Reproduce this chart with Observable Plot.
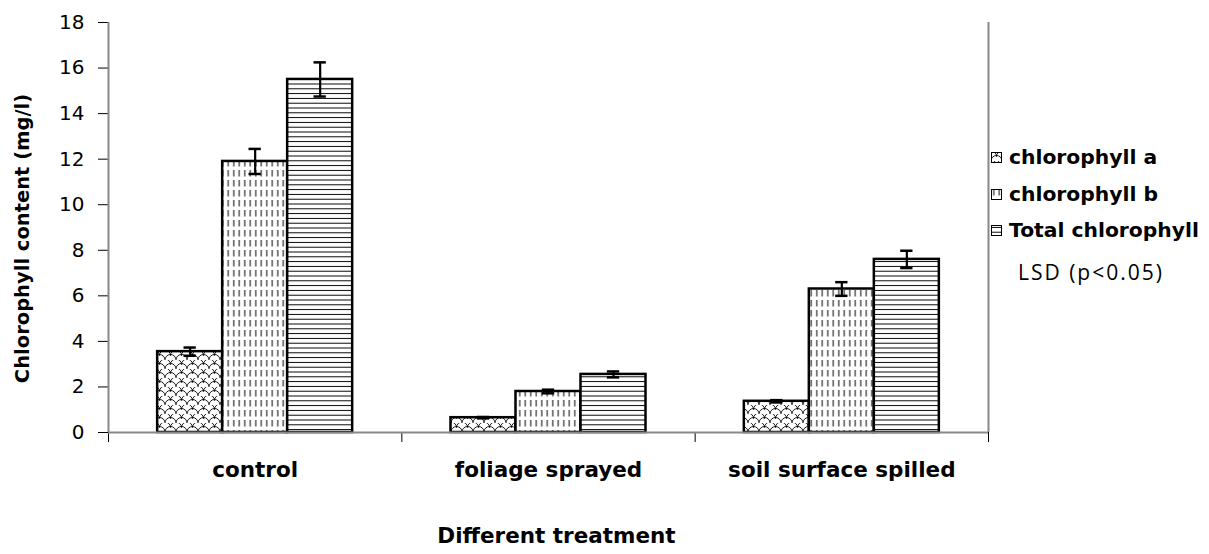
<!DOCTYPE html>
<html><head><meta charset="utf-8">
<script src="https://cdn.jsdelivr.net/npm/d3@7"></script>
<script src="https://cdn.jsdelivr.net/npm/@observablehq/plot@0.6"></script>
<style>
body{margin:0;background:#fff;}
#wrap{position:relative;width:1209px;height:554px;}
.leg{position:absolute;left:991px;font:bold 20.3px "DejaVu Sans";display:flex;align-items:center;white-space:nowrap;color:#000;}
.leg svg{margin-right:7px;}
.note{position:absolute;left:1018px;font:21px "Open Sans";letter-spacing:2px;white-space:nowrap;color:#000;}
</style></head><body>
<svg width="0" height="0" style="position:absolute"><defs>
<pattern id="pa" width="11" height="9" patternUnits="userSpaceOnUse">
<rect width="11" height="9" fill="#fff"/>
<path d="M0,9 A5.5,5.5 0 0 1 11,9 M-5.5,4.5 A5.5,5.5 0 0 1 5.5,4.5 M5.5,4.5 A5.5,5.5 0 0 1 16.5,4.5" fill="none" stroke="#000" stroke-width="0.9"/>
</pattern>
<pattern id="pb" width="5.5" height="10" patternUnits="userSpaceOnUse">
<rect width="5.5" height="10" fill="#fff"/>
<line x1="2.75" y1="0" x2="2.75" y2="6.5" stroke="#000" stroke-width="1"/>
</pattern>
<pattern id="pt" width="10" height="4.8" patternUnits="userSpaceOnUse">
<rect width="10" height="4.8" fill="#fff"/>
<line x1="0" y1="2.4" x2="10" y2="2.4" stroke="#000" stroke-width="1"/>
</pattern>
</defs></svg>
<div id="wrap"></div>
<script>
const treatments = ["control", "foliage sprayed", "soil surface spilled"];
const series = ["chlorophyll a", "chlorophyll b", "Total chlorophyll"];
const chlA = [3.55, 0.65, 1.37];
const chlB = [11.9, 1.8, 6.3];
const total = [15.5, 2.55, 7.6];
const errA = [0.18, 0.03, 0.05];
const errB = [0.55, 0.08, 0.3];
const errT = [0.75, 0.13, 0.38];
const yTicks = [0, 2, 4, 6, 8, 10, 12, 14, 16, 18];
const xTitle = "Different treatment";
const yTitle = "Chlorophyll content (mg/l)";
const note = "LSD (p<0.05)";
const patterns = ["url(#pa)", "url(#pb)", "url(#pt)"];

const values = [chlA, chlB, total];
const errs = [errA, errB, errT];
const bw = 0.2216;
const rows = [];
series.forEach((s, j) => treatments.forEach((t, i) => {
  const x1 = i + 0.5 + (j - 1.5) * bw;
  rows.push({treatment: t, series: s, j, x1, x2: x1 + bw, xc: x1 + bw / 2, v: values[j][i], e: errs[j][i]});
}));
const capW = 0.021;

const bold = {fontFamily: "DejaVu Sans", fontWeight: "bold", fill: "black"};
const plot = Plot.plot({
  width: 1209, height: 554,
  marginLeft: 108, marginRight: 221, marginTop: 22, marginBottom: 122,
  style: {fontFamily: "DejaVu Sans", fontSize: "20px", color: "black", background: "white"},
  x: {domain: [0, 3]},
  y: {domain: [0, 18]},
  marks: [
    Plot.axisY(yTicks, {tickSize: 10, tickPadding: 14, label: null, fontSize: 20}),
    Plot.axisX([0, 1, 2, 3], {tickSize: 10, tickFormat: () => "", label: null}),
    ...series.map((s, j) => Plot.rectY(rows.filter(r => r.j === j), {x1: "x1", x2: "x2", y1: 0, y2: "v", fill: patterns[j], stroke: "black", strokeWidth: 2.5})),
    Plot.ruleX(rows, {x: "xc", y1: d => d.v - d.e, y2: d => d.v + d.e, stroke: "black", strokeWidth: 2.2}),
    Plot.ruleY(rows, {y: d => d.v + d.e, x1: d => d.xc - capW, x2: d => d.xc + capW, stroke: "black", strokeWidth: 2.5}),
    Plot.ruleY(rows, {y: d => d.v - d.e, x1: d => d.xc - capW, x2: d => d.xc + capW, stroke: "black", strokeWidth: 2.5}),
    Plot.ruleY([0], {stroke: "#888", strokeWidth: 2}),
    Plot.ruleX([0, 3], {stroke: "#888", strokeWidth: 2}),
    Plot.text(treatments, {x: (d, i) => i + 0.5, frameAnchor: "bottom", dy: 44, fontSize: 21.5, ...bold}),
    Plot.text([xTitle], {frameAnchor: "bottom", dy: 110, dx: 8, fontSize: 21.5, ...bold}),
    Plot.text([yTitle], {frameAnchor: "left", textAnchor: "middle", dx: -86, dy: 11, rotate: -90, fontSize: 19.5, ...bold})
  ]
});
const wrap = document.getElementById("wrap");
wrap.appendChild(plot);

const legY = [158, 195, 231];
series.forEach((s, j) => {
  const d = document.createElement("div");
  d.className = "leg";
  d.style.top = (legY[j] - 13) + "px";
  d.innerHTML = `<svg width="11" height="11"><rect x="0.5" y="0.5" width="10" height="10" fill="${patterns[j]}" stroke="#000" stroke-width="1"/></svg><span></span>`;
  d.querySelector("span").textContent = s;
  wrap.appendChild(d);
});
const n = document.createElement("div");
n.className = "note";
n.style.top = "258px";
n.textContent = note;
wrap.appendChild(n);
</script>
</body></html>
